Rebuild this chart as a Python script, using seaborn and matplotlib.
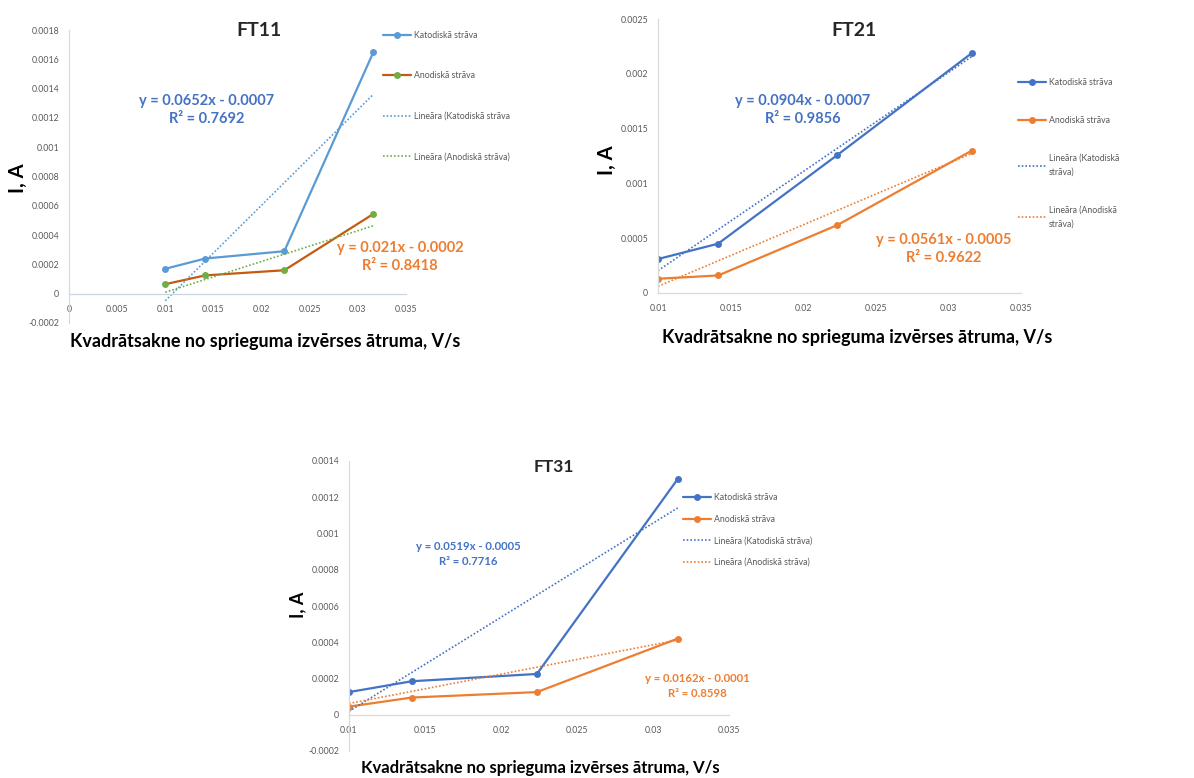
import matplotlib
matplotlib.use("Agg")
import matplotlib.pyplot as plt
import seaborn as sns
import pandas as pd
from matplotlib.ticker import FixedLocator, FixedFormatter

sns.set_theme(style="white")
plt.rcParams['font.family'] = ['Lato', 'DejaVu Sans']

W, H = 1194, 778

# square root of the scan rate, V/s
x_sqrt = [0.01, 0.014142, 0.022361, 0.031623]

ft11_kat = [0.00017, 0.00024, 0.00029, 0.00165]
ft11_ano = [0.000065, 0.000125, 0.00016, 0.000545]
ft21_kat = [0.00031, 0.00045, 0.00126, 0.00219]
ft21_ano = [0.00013, 0.00016, 0.00062, 0.0013]
ft31_kat = [0.000125, 0.000185, 0.000225, 0.0013]
ft31_ano = [0.000045, 0.000095, 0.000125, 0.00042]

# linear trend: slope, intercept, R^2
ft11_fit_kat = [0.0652, -0.0007, 0.7692]
ft11_fit_ano = [0.021, -0.0002, 0.8418]
ft21_fit_kat = [0.0904, -0.0007, 0.9856]
ft21_fit_ano = [0.0561, -0.0005, 0.9622]
ft31_fit_kat = [0.0519, -0.0005, 0.7716]
ft31_fit_ano = [0.0162, -0.0001, 0.8598]

titles = ["FT11", "FT21", "FT31"]
xlabel = "Kvadrātsakne no sprieguma izvērses ātruma, V/s"
ylabel = "I, A"

ft11_xticks = [0, 0.005, 0.01, 0.015, 0.02, 0.025, 0.03, 0.035]
ft11_xticklabels = ["0", "0.005", "0.01", "0.015", "0.02", "0.025", "0.03", "0.035"]
ft11_yticks = [-0.0002, 0, 0.0002, 0.0004, 0.0006, 0.0008, 0.001, 0.0012, 0.0014, 0.0016, 0.0018]
ft11_yticklabels = ["-0.0002", "0", "0.0002", "0.0004", "0.0006", "0.0008", "0.001",
                    "0.0012", "0.0014", "0.0016", "0.0018"]

ft21_xticks = [0.01, 0.015, 0.02, 0.025, 0.03, 0.035]
ft21_xticklabels = ["0.01", "0.015", "0.02", "0.025", "0.03", "0.035"]
ft21_yticks = [0, 0.0005, 0.001, 0.0015, 0.002, 0.0025]
ft21_yticklabels = ["0", "0.0005", "0.001", "0.0015", "0.002", "0.0025"]

ft31_xticks = [0.01, 0.015, 0.02, 0.025, 0.03, 0.035]
ft31_xticklabels = ["0.01", "0.015", "0.02", "0.025", "0.03", "0.035"]
ft31_yticks = [-0.0002, 0, 0.0002, 0.0004, 0.0006, 0.0008, 0.001, 0.0012, 0.0014]
ft31_yticklabels = ["-0.0002", "0", "0.0002", "0.0004", "0.0006", "0.0008", "0.001",
                    "0.0012", "0.0014"]

ft11_legend = ["Katodiskā strāva", "Anodiskā strāva",
               "Lineāra (Katodiskā strāva", "Lineāra (Anodiskā strāva)"]
ft21_legend = ["Katodiskā strāva", "Anodiskā strāva",
               "Lineāra (Katodiskā\nstrāva)", "Lineāra (Anodiskā\nstrāva)"]
ft31_legend = ["Katodiskā strāva", "Anodiskā strāva",
               "Lineāra (Katodiskā strāva)", "Lineāra (Anodiskā strāva)"]

BLUE = "#4472C4"
LIGHT_BLUE = "#5B9BD5"
ORANGE = "#ED7D31"
RUST = "#C55A11"
GREEN = "#70AD47"
TICK_GRAY = "#595959"


def fx(px):
    return px / W


def fy(py):
    return 1 - py / H


def axes_rect(left, right, top, bottom):
    return [fx(left), fy(bottom), (right - left) / W, (bottom - top) / H]


def equation(fit):
    s, b, r2 = fit
    sign = "-" if b < 0 else "+"
    return f"y = {s:g}x {sign} {abs(b):g}\nR² = {r2:g}"


def panel(fig, rect, kat, ano, fit_k, fit_a, cfg):
    ax = fig.add_axes(rect)
    df = pd.DataFrame({"x": x_sqrt, "kat": kat, "ano": ano})
    names = cfg["legend"]

    sns.lineplot(data=df, x="x", y="kat", ax=ax, color=cfg["kat"], lw=1.6,
                 marker="o", markersize=5, markeredgewidth=0,
                 markerfacecolor=cfg["kat"], label=names[0])
    sns.lineplot(data=df, x="x", y="ano", ax=ax, color=cfg["ano_line"], lw=1.6,
                 marker="o", markersize=5, markeredgewidth=0,
                 markerfacecolor=cfg["ano_marker"], label=names[1])

    xs = [x_sqrt[0], x_sqrt[-1]]
    trend_k = pd.DataFrame({"x": xs, "y": [fit_k[0] * v + fit_k[1] for v in xs]})
    trend_a = pd.DataFrame({"x": xs, "y": [fit_a[0] * v + fit_a[1] for v in xs]})
    sns.lineplot(data=trend_k, x="x", y="y", ax=ax, color=cfg["trend_k"], lw=1.2,
                 linestyle=(0, (1, 1.2)), label=names[2])
    sns.lineplot(data=trend_a, x="x", y="y", ax=ax, color=cfg["trend_a"], lw=1.2,
                 linestyle=(0, (1, 1.2)), label=names[3])

    ax.set_xlim(cfg["xticks"][0], cfg["xticks"][-1])
    ax.set_ylim(cfg["yticks"][0], cfg["yticks"][-1])
    ax.xaxis.set_major_locator(FixedLocator(cfg["xticks"]))
    ax.xaxis.set_major_formatter(FixedFormatter(cfg["xticklabels"]))
    ax.yaxis.set_major_locator(FixedLocator(cfg["yticks"]))
    ax.yaxis.set_major_formatter(FixedFormatter(cfg["yticklabels"]))
    ax.tick_params(axis="both", length=0, labelsize=6.3, labelcolor=TICK_GRAY)
    ax.tick_params(axis="x", pad=8)
    ax.tick_params(axis="y", pad=7)

    for side in ("top", "right"):
        ax.spines[side].set_visible(False)
    ax.spines["left"].set_color("#D9D9D9")
    ax.spines["left"].set_linewidth(0.9)
    ax.spines["bottom"].set_color(cfg["axis_color"])
    ax.spines["bottom"].set_linewidth(0.9)
    ax.spines["bottom"].set_position(("data", 0))
    ax.set_facecolor("white")
    ax.grid(False)

    ax.set_xlabel(xlabel, fontsize=cfg["xl_size"], fontweight="bold", color="black")
    ax.xaxis.set_label_coords(fx(cfg["xl_pos"][0]), fy(cfg["xl_pos"][1]),
                              transform=fig.transFigure)
    ax.xaxis.label.set_va("center")
    ax.set_ylabel(ylabel, fontsize=cfg["yl_size"], fontweight="bold", color="black")
    ax.yaxis.set_label_coords(fx(cfg["yl_pos"][0]), fy(cfg["yl_pos"][1]),
                              transform=fig.transFigure)
    ax.yaxis.label.set_va("center")

    fig.text(fx(cfg["title_pos"][0]), fy(cfg["title_pos"][1]), cfg["title"],
             fontsize=cfg["title_size"], fontweight="bold", ha="center", va="center")

    fig.text(fx(cfg["eq_k_pos"][0]), fy(cfg["eq_k_pos"][1]), equation(fit_k),
             color=BLUE, fontsize=cfg["eq_size"], fontweight="bold",
             ha="center", va="center", linespacing=1.45)
    fig.text(fx(cfg["eq_a_pos"][0]), fy(cfg["eq_a_pos"][1]), equation(fit_a),
             color=ORANGE, fontsize=cfg["eq_size"], fontweight="bold",
             ha="center", va="center", linespacing=1.45)

    handles, labels = ax.get_legend_handles_labels()
    leg = ax.legend(handles, labels, loc="upper left",
                    bbox_to_anchor=(fx(cfg["leg_pos"][0]), fy(cfg["leg_pos"][1])),
                    bbox_transform=fig.transFigure, frameon=False, fontsize=6.3,
                    handlelength=3.2, handletextpad=0.3, borderpad=0,
                    borderaxespad=0, labelspacing=cfg["leg_spacing"])
    for t in leg.get_texts():
        t.set_color(TICK_GRAY)
        t.set_linespacing(1.7)
    return ax


fig = plt.figure(figsize=(W / 100, H / 100), dpi=100)
fig.patch.set_facecolor("white")

panel(fig, axes_rect(69, 406, 30, 323), ft11_kat, ft11_ano, ft11_fit_kat, ft11_fit_ano, {
    "kat": LIGHT_BLUE, "ano_line": RUST, "ano_marker": GREEN,
    "trend_k": LIGHT_BLUE, "trend_a": GREEN, "axis_color": "#CBD6E4",
    "xticks": ft11_xticks, "xticklabels": ft11_xticklabels,
    "yticks": ft11_yticks, "yticklabels": ft11_yticklabels,
    "legend": ft11_legend, "title": titles[0], "title_pos": (259, 30), "title_size": 14,
    "xl_pos": (265, 341), "xl_size": 13, "yl_pos": (18, 178), "yl_size": 14.5,
    "eq_k_pos": (207, 110), "eq_a_pos": (400, 257), "eq_size": 10.5,
    "leg_pos": (383, 31), "leg_spacing": 3.6,
})

panel(fig, axes_rect(658, 1021, 19, 293), ft21_kat, ft21_ano, ft21_fit_kat, ft21_fit_ano, {
    "kat": BLUE, "ano_line": ORANGE, "ano_marker": ORANGE,
    "trend_k": BLUE, "trend_a": ORANGE, "axis_color": "#D9D9D9",
    "xticks": ft21_xticks, "xticklabels": ft21_xticklabels,
    "yticks": ft21_yticks, "yticklabels": ft21_yticklabels,
    "legend": ft21_legend, "title": titles[1], "title_pos": (854, 30), "title_size": 14,
    "xl_pos": (857, 338), "xl_size": 13, "yl_pos": (607, 160), "yl_size": 14.5,
    "eq_k_pos": (803, 110), "eq_a_pos": (944, 249), "eq_size": 10.5,
    "leg_pos": (1018, 78), "leg_spacing": 3.3,
})

panel(fig, axes_rect(349, 729, 461, 751), ft31_kat, ft31_ano, ft31_fit_kat, ft31_fit_ano, {
    "kat": BLUE, "ano_line": ORANGE, "ano_marker": ORANGE,
    "trend_k": BLUE, "trend_a": ORANGE, "axis_color": "#D9D9D9",
    "xticks": ft31_xticks, "xticklabels": ft31_xticklabels,
    "yticks": ft31_yticks, "yticklabels": ft31_yticklabels,
    "legend": ft31_legend, "title": titles[2], "title_pos": (554, 467), "title_size": 12.5,
    "xl_pos": (540, 768), "xl_size": 12, "yl_pos": (298, 605), "yl_size": 13,
    "eq_k_pos": (468, 554), "eq_a_pos": (697, 686), "eq_size": 8.2,
    "leg_pos": (683, 493), "leg_spacing": 1.45,
})

fig.savefig("out.png", dpi=100, facecolor="white")
